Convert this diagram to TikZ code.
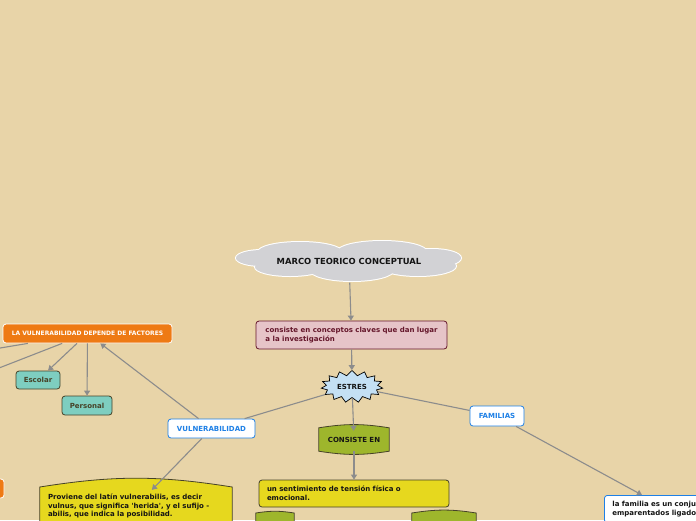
\documentclass[tikz,border=0pt]{standalone}
\usepackage{xcolor}
\usepackage{tikz}
\usepackage{fontspec}
\setmainfont{DejaVu Sans}
\usetikzlibrary{shapes.symbols, arrows.meta, positioning, calc}
\definecolor{mapbg}{RGB}{232, 212, 168}
\definecolor{cloudgray}{RGB}{210, 210, 213}
\definecolor{pinkfill}{RGB}{230, 196, 200}
\definecolor{maroonrim}{RGB}{100, 22, 42}
\definecolor{burstblue}{RGB}{196, 224, 244}
\definecolor{linkblue}{RGB}{30, 128, 230}
\definecolor{oliveg}{RGB}{158, 182, 44}
\definecolor{mustard}{RGB}{230, 216, 30}
\definecolor{factorange}{RGB}{238, 122, 20}
\definecolor{tealfill}{RGB}{126, 206, 192}
\definecolor{edgegray}{RGB}{140, 140, 140}
\definecolor{darkrim}{RGB}{70, 66, 40}
\definecolor{darktext}{RGB}{20, 20, 20}
\pgfdeclarelayer{bg}
\pgfdeclarelayer{back}
\pgfsetlayers{bg,back,main}

\begin{document}
\begin{tikzpicture}[x=1pt, y=-1pt,
    every node/.style={font=\fontsize{7}{8.6}\selectfont\bfseries, text=darktext},
    link/.style={draw=edgegray, line width=1.1pt, -{Triangle[length=5pt,width=6pt]}},
    plainlink/.style={draw=edgegray, line width=1.1pt},
    box/.style={rounded corners=3pt, line width=0.8pt, inner xsep=8pt, inner ysep=4pt},
    whitebox/.style={box, fill=white, draw=linkblue, text=linkblue, minimum height=19pt, inner xsep=2pt},
    tealbox/.style={box, fill=tealfill, draw=darkrim, text=darkrim, minimum height=18pt, inner xsep=2pt},
    barrel/.style={inner xsep=8pt},
    barrelrim/.style={draw=darkrim, line width=0.8pt}]
    \useasboundingbox (0,0) rectangle (696,520);
    \begin{pgfonlayer}{bg}
        \fill[mapbg] (0,0) rectangle (696,520);
    \end{pgfonlayer}

    % centre column
    \node[minimum width=225pt, minimum height=37pt, font=\fontsize{8.4}{10}\selectfont\bfseries] (marco) at (349,261) {MARCO TEORICO CONCEPTUAL};
    \node[box, fill=pinkfill, draw=maroonrim, text=maroonrim, align=left,
          minimum width=191pt, minimum height=28pt] (claves) at (351.5,335) {consiste en conceptos claves que dan lugar\\a la investigación};
    \node[starburst, starburst points=15, starburst point height=5pt, random starburst=0, fill=burstblue, draw=black,
          line width=0.7pt, minimum width=55pt, minimum height=32pt] (estres) at (352,386.5) {ESTRES};
    \node[whitebox, minimum width=87pt] (vulner) at (211.5,428.5) {VULNERABILIDAD};
    \node[whitebox, minimum width=54pt, minimum height=20pt] (familias) at (497,416) {FAMILIAS};
    \node[barrel, minimum width=70pt, minimum height=23pt] (consiste) at (354,439.5) {CONSISTE EN};
    \node[box, fill=mustard, draw=darkrim, text width=174pt, align=left,
          minimum height=27pt] (tension) at (354,493.5) {un sentimiento de tensión física o\\emocional.};
    \node[barrel, minimum width=38pt, minimum height=30pt, anchor=north] (lowleft) at (275,513) {};
    \node[barrel, minimum width=64pt, minimum height=30pt, anchor=north] (lowright) at (444,513) {};

    % left branch
    \node[barrel, text width=176pt, align=left, inner ysep=7pt, anchor=north,
          font=\fontsize{7}{8.5}\selectfont\bfseries] (latin) at (136,487) {Proviene del latín vulnerabilis, es decir\\vulnus, que significa \textquotesingle herida\textquotesingle, y el sufijo -\\abilis, que indica la posibilidad.};
    \node[box, fill=factorange, draw=white, text=white, minimum width=169pt, minimum height=19pt, inner xsep=2pt,
          font=\fontsize{6}{7}\selectfont\bfseries] (factores) at (87.5,333.5) {LA VULNERABILIDAD DEPENDE DE FACTORES};
    \node[tealbox, minimum width=44pt] (escolar) at (38,380) {Escolar};
    \node[tealbox, minimum width=50pt, minimum height=19pt] (personal) at (87,405.5) {Personal};
    \node[box, fill=factorange, draw=white, minimum width=88pt, minimum height=19pt] (leftcut) at (-40,488.5) {};
    \coordinate (offa) at (-60,358);
    \coordinate (offb) at (-60,391);

    % right branch
    \node[box, fill=white, draw=linkblue, anchor=north west, text width=200pt, align=left,
          inner ysep=6pt] (famtext) at (604,495) {la familia es un conjunto\\emparentados ligados};

    \begin{pgfonlayer}{back}
        % cloud behind the title
        \foreach \dx/\dy/\rx/\ry in {-87/-3/26pt/8pt, -49/-9/42pt/10pt, 33/-9/45pt/11pt, 83/-3/29pt/9pt,
                                      -59/6/35pt/9pt, 3/9/42pt/11pt, 69/5/38pt/10pt}
            \draw[white, line width=2pt] ($(marco)+(\dx,\dy)$) ellipse [x radius=\rx, y radius=\ry];
        \foreach \dx/\dy/\rx/\ry in {-87/-3/26pt/8pt, -49/-9/42pt/10pt, 33/-9/45pt/11pt, 83/-3/29pt/9pt,
                                      -59/6/35pt/9pt, 3/9/42pt/11pt, 69/5/38pt/10pt}
            \fill[cloudgray] ($(marco)+(\dx,\dy)$) ellipse [x radius=\rx, y radius=\ry];
        \fill[cloudgray] ($(marco)+(-85,-6)$) rectangle ($(marco)+(85,6)$);
        % barrels
        \foreach \n/\c in {consiste/oliveg, lowleft/oliveg, lowright/oliveg, latin/mustard}
            \draw[barrelrim, fill=\c] (\n.north west) to[bend left=9] (\n.north east) -- (\n.south east)
                to[bend left=9] (\n.south west) -- cycle;
    \end{pgfonlayer}

    \draw[link, shorten <=3pt] (marco) -- (claves);
    \draw[link] (claves) -- (estres);
    \draw[plainlink] (estres) -- (vulner);
    \draw[plainlink] (estres) -- (familias);
    \draw[link, shorten >=-3pt] (estres) -- (consiste);
    \draw[link] (consiste) -- (tension);
    \draw[link, shorten >=-4pt] (vulner) -- (latin);
    \draw[link] (vulner) -- (factores);
    \draw[link] (factores) -- (escolar);
    \draw[link] (factores) -- (personal);
    \draw[link] (factores) -- (offa);
    \draw[link] (factores) -- (offb);
    \draw[link] (familias) -- ($(famtext.north west)+(38,0)$);
\end{tikzpicture}
\end{document}
